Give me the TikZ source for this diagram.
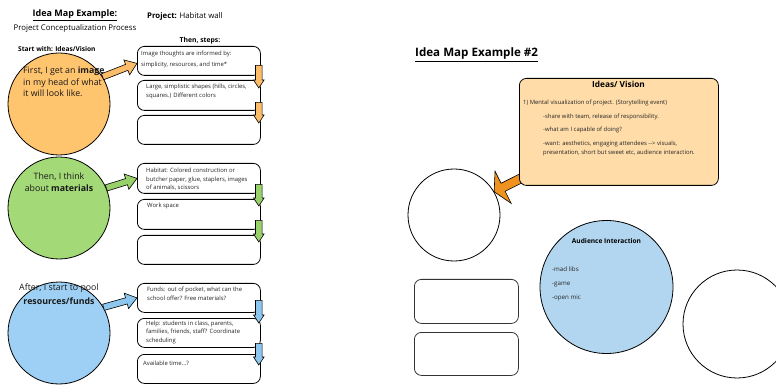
\documentclass[tikz,border=0pt]{standalone}
\usepackage{fontspec}
\setmainfont{Open Sans}
\usetikzlibrary{calc,backgrounds}
\definecolor{imageOrange}{HTML}{FFC46E}
\definecolor{imageArrow}{HTML}{FBBD69}
\definecolor{materialGreen}{HTML}{A3D977}
\definecolor{materialArrow}{HTML}{98D06A}
\definecolor{fundBlue}{HTML}{9DD0F4}
\definecolor{fundArrow}{HTML}{8DC7EF}
\definecolor{visionPeach}{HTML}{FFDCA8}
\definecolor{calloutOrange}{HTML}{F0921F}
\definecolor{audienceBlue}{HTML}{B2D6EF}
\tikzset{idea circle/.style={circle, draw=black, line width=0.8pt, minimum size=102pt, inner sep=0pt}}
\tikzset{step box/.style={draw=black, rounded corners=7pt, line width=0.8pt, fill=white, minimum width=123pt, minimum height=29pt, anchor=north west, inner sep=0pt}}
\tikzset{step text/.style={anchor=base west, align=left, inner sep=0pt, text=black!85, font=\fontsize{5.9}{8.7}\selectfont}}
\tikzset{circle text/.style={inner sep=0pt, text=black!90, font=\fontsize{8.8}{11.5}\selectfont}}
\tikzset{head text/.style={inner sep=0pt, anchor=base, font=\fontsize{7.8}{9}\selectfont}}
\tikzset{flow arrow/.style={draw=black, line width=0.6pt, line join=miter}}
\tikzset{blank box/.style={draw=black!80, rounded corners=7pt, line width=0.8pt, minimum width=104pt, minimum height=44pt, anchor=north west, inner sep=0pt}}
\tikzset{blank circle/.style={circle, draw=black, line width=0.8pt, inner sep=0pt}}
\newcommand{\fatarrow}[6][]{%
  \path (#2) coordinate (faTail) (#3) coordinate (faTip);
  \path ($(faTip)!#6!(faTail)$) coordinate (faHead);
  \draw[#1] ($(faTail)!#4!90:(faTip)$) -- ($(faHead)!#4!90:(faTip)$) -- ($(faHead)!#5!90:(faTip)$) -- (faTip)
    -- ($(faHead)!#5!-90:(faTip)$) -- ($(faHead)!#4!-90:(faTip)$) -- ($(faTail)!#4!-90:(faTip)$) -- cycle;
}

\begin{document}
\begin{tikzpicture}[x=1pt,y=-1pt]
	\useasboundingbox (0,0) rectangle (776,387);

	% first map
	\node[head text, font=\fontsize{9}{10}\selectfont\bfseries] (mapTitle) at (75,17) {\underline{Idea Map Example:}};
	\node[head text] (mapSub) at (75,30.5) {Project Conceptualization Process};
	\node[head text, anchor=base west] (projectName) at (147,18.5) {\textbf{Project:} Habitat wall};
	\node[head text, font=\fontsize{6.8}{8}\selectfont\bfseries] (stepsHead) at (200,42.5) {Then, steps:};
	\node[head text, anchor=base west, font=\fontsize{6.6}{8}\selectfont\bfseries] (startHead) at (18,51.5) {Start with: Ideas/Vision};

	\node[idea circle, fill=imageOrange] (thinkImage) at (59,104) {};
	\node[idea circle, fill=materialGreen] (thinkMaterial) at (59,208) {};
	\node[idea circle, fill=fundBlue] (thinkFund) at (59,333) {};

	% multi-line nodes sit on their last baseline
	\node[circle text, anchor=base west, align=left] (imageText) at (23,97) {First, I get an \textbf{image}\\in my head of what\\it will look like.};
	\node[circle text, anchor=base, align=center] (materialText) at (59,191.5) {Then, I think\\about \textbf{materials}};
	\node[circle text, anchor=base, align=center, font=\fontsize{8.8}{13.5}\selectfont] (fundText) at (59,304.5) {After, I start to pool\\\textbf{resources/funds}};

	\node[step box] (imageStep1) at (137,46) {};
	\node[step box, minimum height=30pt] (imageStep2) at (137,80) {};
	\node[step box] (imageStep3) at (137,115) {};
	\node[step box, minimum height=30pt] (materialStep1) at (137,163) {};
	\node[step box, minimum height=30pt] (materialStep2) at (137,199) {};
	\node[step box] (materialStep3) at (137,235) {};
	\node[step box] (fundStep1) at (137,283) {};
	\node[step box] (fundStep2) at (137,318) {};
	\node[step box] (fundStep3) at (137,354) {};

	\node[step text, font=\fontsize{5.9}{10.5}\selectfont] (imageNote1) at (141,66.5) {Image thoughts are informed by:\\simplicity, resources, and time*};
	\node[step text] (imageNote2) at (146,97.5) {Large, simplistic shapes (hills, circles,\\squares.) Different colors};
	\node[step text] (materialNote1) at (146,190) {Habitat: Colored construction or\\butcher paper, glue, staplers, images\\of animals, scissors};
	\node[step text] (materialNote2) at (147,208) {Work space};
	\node[step text] (fundNote1) at (147,300) {Funds: out of pocket, what can the\\school offer? Free materials?};
	\node[step text] (fundNote2) at (146,342.5) {Help: students in class, parents,\\families, friends, staff? Coordinate\\scheduling};
	\node[step text] (fundNote3) at (143,365) {Available time...?};

	\fatarrow[flow arrow, fill=imageArrow]{thinkImage.32}{$(imageStep1.west)+(0,2.5)$}{3.2pt}{8pt}{11pt}
	\fatarrow[flow arrow, fill=imageArrow]{$(imageStep1.east)+(-2,4.5)$}{$(imageStep2.north east)+(-2,8)$}{3.3pt}{5.3pt}{8pt}
	\fatarrow[flow arrow, fill=imageArrow]{$(imageStep2.east)+(-2,7)$}{$(imageStep3.north east)+(-2,8)$}{3.3pt}{5.3pt}{8pt}
	\fatarrow[flow arrow, fill=materialArrow]{thinkMaterial.23}{materialStep1.west}{3.2pt}{8pt}{11pt}
	\fatarrow[flow arrow, fill=materialArrow]{$(materialStep1.east)+(-2,6)$}{$(materialStep2.north east)+(-2,7)$}{3.3pt}{5.3pt}{8pt}
	\fatarrow[flow arrow, fill=materialArrow]{$(materialStep2.east)+(-2,6)$}{$(materialStep3.north east)+(-2,7)$}{3.3pt}{5.3pt}{8pt}
	\fatarrow[flow arrow, fill=fundArrow]{thinkFund.30}{fundStep1.west}{3.2pt}{8pt}{11pt}
	\fatarrow[flow arrow, fill=fundArrow]{$(fundStep1.east)+(-2,2.5)$}{$(fundStep2.north east)+(-2,5)$}{3.3pt}{5.3pt}{8pt}
	\fatarrow[flow arrow, fill=fundArrow]{$(fundStep2.east)+(-2,10.5)$}{$(fundStep3.north east)+(-2,11)$}{3.3pt}{5.3pt}{8pt}

	% second map
	\node[head text, anchor=base west, font=\fontsize{11.6}{13}\selectfont\bfseries] (mapTitleTwo) at (415,57) {\underline{Idea Map Example \#2}};

	\node[draw=black, fill=visionPeach, rounded corners=7pt, line width=0.8pt, minimum width=199pt, minimum height=107pt, anchor=north west, inner sep=0pt] (visionBox) at (519,78) {};
	\node[head text, font=\fontsize{8.3}{10}\selectfont\bfseries] (visionTitle) at (618.5,88) {Ideas/ Vision};
	\node[step text] (visionLine1) at (523,105) {1) Mental visualization of project. (Storytelling event)};
	\node[step text] (visionLine2) at (543,119) {-share with team, release of responsibility.};
	\node[step text] (visionLine3) at (543,132) {-what am I capable of doing?};
	\node[step text] (visionLine4) at (543,154.5) {-want: aesthetics, engaging attendees -{}-{}> visuals,\\presentation, short but sweet etc, audience interaction.};

	\node[blank circle, minimum size=92pt] (blankCircleL) at (454,215) {};
	\begin{scope}[on background layer]
		\fatarrow[flow arrow, fill=calloutOrange]{$(visionBox.south west)+(3,-8)$}{blankCircleL.30}{4.5pt}{18pt}{10pt}
	\end{scope}

	\node[blank box] (blankBox1) at (414,279) {};
	\node[blank box, minimum height=43pt] (blankBox2) at (414,332) {};

	\node[blank circle, fill=audienceBlue, minimum size=133pt] (audienceCircle) at (606.5,287) {};
	\node[head text, font=\fontsize{6.6}{8}\selectfont\bfseries] (audienceTitle) at (606.5,243.5) {Audience Interaction};
	\node[step text, font=\fontsize{6.2}{14}\selectfont] (audienceList) at (552,299) {-mad libs\\-game\\-open mic};

	\node[blank circle, minimum size=108pt] (blankCircleR) at (737,324) {};
\end{tikzpicture}
\end{document}
